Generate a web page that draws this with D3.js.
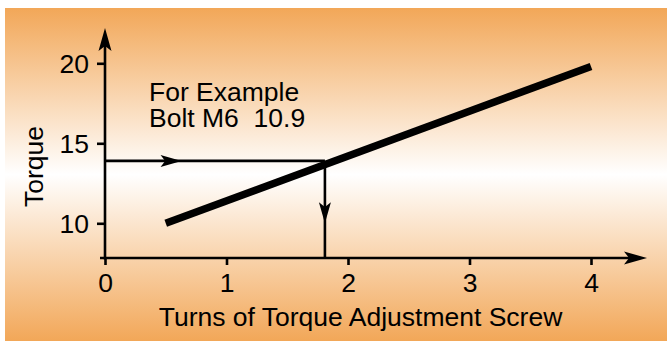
<!DOCTYPE html>
<html>
<head>
<meta charset="utf-8">
<script src="https://cdn.jsdelivr.net/npm/d3@7"></script>
<style>
  html, body { margin: 0; padding: 0; background: #ffffff; }
  svg { display: block; }
  text { font-family: "Liberation Sans", Arial, Helvetica, sans-serif; fill: #000; }
</style>
</head>
<body>
<svg id="chart" width="667" height="341"></svg>
<script>
// ---- data ----
const xTicks = [0, 1, 2, 3, 4];
const yTicks = [10, 15, 20];
const lineX = [0.5, 4];
const lineY = [10, 19.8];
const readX = 1.81;     // turns
const readY = 13.9;     // example torque
const hArrowTipX = 0.63; // where the arrowhead sits on the horizontal guide
const vArrowTipY = 10;   // where the arrowhead sits on the vertical guide
const noteLines = ["For Example", "Bolt M6  10.9"];
const xTitle = "Turns of Torque Adjustment Screw";
const yTitle = "Torque";

// ---- setup ----
const W = 667, H = 341;
const FS = 26.5;
const svg = d3.select("#chart");

const x = d3.scaleLinear().domain([0, 4]).range([105, 591]);
const y = d3.scaleLinear().domain([10, 20]).range([223.3, 63.3]);
const xMin = x.invert(100), xMax = x.invert(647);
const yMin = y.invert(258), yMax = y.invert(28);

// background gradient
const defs = svg.append("defs");
const grad = defs.append("linearGradient").attr("id", "bg")
  .attr("x1", 0).attr("y1", 0).attr("x2", 0).attr("y2", 1);
grad.append("stop").attr("offset", "0%").attr("stop-color", "#f2a758");
grad.append("stop").attr("offset", "50%").attr("stop-color", "#ffffff");
grad.append("stop").attr("offset", "100%").attr("stop-color", "#f2a758");
svg.append("rect").attr("x", 5).attr("y", 8).attr("width", W - 5).attr("height", H - 8)
  .attr("fill", "url(#bg)");

// arrowhead helper (notched)
function arrowHead(g, tx, ty, angleDeg, len, hw) {
  const notch = len * 0.22;
  g.append("path")
    .attr("d", `M0,0 L${-len},${-hw} L${-len + notch},0 L${-len},${hw} Z`)
    .attr("transform", `translate(${tx},${ty}) rotate(${angleDeg})`)
    .attr("fill", "#000");
}

const g = svg.append("g");

// axes lines
g.append("line").attr("x1", x(xMin)).attr("x2", x(xMax) - 8)
  .attr("y1", y(yMin)).attr("y2", y(yMin))
  .attr("stroke", "#000").attr("stroke-width", 2.6);
arrowHead(g, x(xMax), y(yMin), 0, 23, 6.5);

g.append("line").attr("x1", x(0)).attr("x2", x(0))
  .attr("y1", y(yMin) + 1.5).attr("y2", y(yMax) + 8)
  .attr("stroke", "#000").attr("stroke-width", 2.6);
arrowHead(g, x(0), y(yMax), -90, 23, 6.5);

// x axis ticks
const xAxis = d3.axisBottom(x).tickValues(xTicks).tickSize(7).tickSizeOuter(0).tickPadding(8)
  .tickFormat(d3.format("d"));
const xg = g.append("g").attr("transform", `translate(0,${y(yMin)})`).call(xAxis);
xg.select(".domain").remove();
xg.selectAll(".tick line").attr("stroke", "#000").attr("stroke-width", 2.6);
xg.selectAll(".tick text").attr("font-size", FS).attr("font-family", null).attr("fill", "#000");

// y axis ticks
const yAxis = d3.axisLeft(y).tickValues(yTicks).tickSize(8).tickSizeOuter(0).tickPadding(8)
  .tickFormat(d3.format("d"));
const yg = g.append("g").attr("transform", `translate(${x(0)},0)`).call(yAxis);
yg.select(".domain").remove();
yg.selectAll(".tick line").attr("stroke", "#000").attr("stroke-width", 2.6);
yg.selectAll(".tick text").attr("font-size", FS).attr("font-family", null).attr("fill", "#000")
  .attr("dy", "0.35em");

// guide lines
g.append("line").attr("x1", x(0)).attr("x2", x(readX))
  .attr("y1", y(readY)).attr("y2", y(readY))
  .attr("stroke", "#000").attr("stroke-width", 2.6);
arrowHead(g, x(hArrowTipX), y(readY), 0, 21, 6);

g.append("line").attr("x1", x(readX)).attr("x2", x(readX))
  .attr("y1", y(readY)).attr("y2", y(yMin))
  .attr("stroke", "#000").attr("stroke-width", 2.6);
arrowHead(g, x(readX), y(vArrowTipY), 90, 21, 6);

// main thick line
const pts = lineX.map((d, i) => [d, lineY[i]]);
g.append("path").datum(pts)
  .attr("d", d3.line().x(d => x(d[0])).y(d => y(d[1])))
  .attr("fill", "none").attr("stroke", "#000").attr("stroke-width", 7.5)
  .attr("stroke-linecap", "butt");

// annotation (one text block, two lines)
const note = g.append("text").attr("x", 149).attr("y", 101.2)
  .attr("font-size", FS).style("white-space", "pre");
noteLines.forEach((t, i) => {
  note.append("tspan").attr("x", 149).attr("dy", i === 0 ? 0 : 26).text(t);
});

// axis titles
g.append("text").attr("x", 360.5).attr("y", 326).attr("text-anchor", "middle")
  .attr("font-size", FS).text(xTitle);
g.append("text").attr("transform", "translate(43,166.5) rotate(-90)")
  .attr("text-anchor", "middle").attr("font-size", FS).text(yTitle);
</script>
</body>
</html>
